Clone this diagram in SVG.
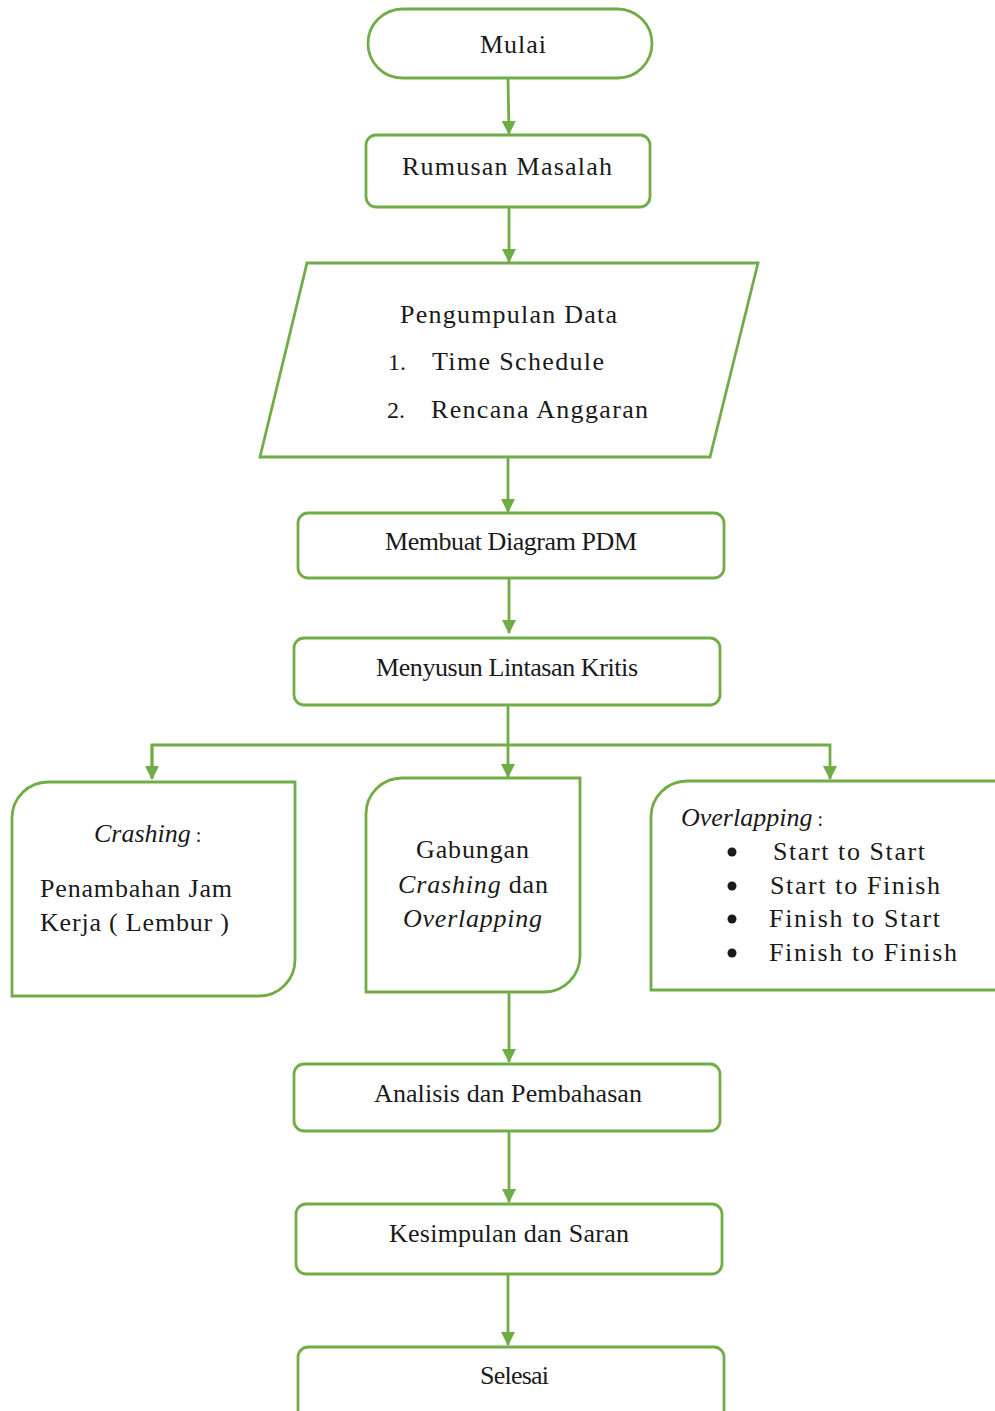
<svg xmlns="http://www.w3.org/2000/svg" width="995" height="1411" viewBox="0 0 995 1411">
<style>
.s{fill:#fff;stroke:#70AD47;stroke-width:2.8}
.c{fill:none;stroke:#70AD47;stroke-width:2.8}
.i{font-style:italic}
</style>
<defs>
<marker id="ah" viewBox="0 0 14 14" refX="13" refY="7" markerWidth="14" markerHeight="14" markerUnits="userSpaceOnUse" orient="auto">
<path d="M0,0 L14,7 L0,14 z" fill="#70AD47"/>
</marker>
</defs>
<rect width="995" height="1411" fill="#fff"/>
<g id="connectors">
<line class="c" x1="508" y1="78" x2="509" y2="134" marker-end="url(#ah)"/>
<line class="c" x1="509" y1="207" x2="509" y2="262" marker-end="url(#ah)"/>
<line class="c" x1="508" y1="457" x2="508" y2="512" marker-end="url(#ah)"/>
<line class="c" x1="509" y1="578" x2="509" y2="633" marker-end="url(#ah)"/>
<line class="c" x1="508" y1="705" x2="508" y2="745"/>
<polyline class="c" points="152,778 152,745 830,745 830,779" marker-end="url(#ah)"/>
<line class="c" x1="152" y1="745" x2="152" y2="779" marker-end="url(#ah)"/>
<line class="c" x1="508" y1="745" x2="508" y2="777" marker-end="url(#ah)"/>
<line class="c" x1="509" y1="992" x2="509" y2="1062" marker-end="url(#ah)"/>
<line class="c" x1="509" y1="1131" x2="509" y2="1202" marker-end="url(#ah)"/>
<line class="c" x1="508" y1="1274" x2="508" y2="1345" marker-end="url(#ah)"/>
</g>
<g font-family="'Liberation Serif', 'Times New Roman', serif" font-size="26" fill="#1a1a1a">
<g id="mulai">
<rect class="s" x="368" y="9" width="284" height="69" rx="34.5"/>
<text x="480" y="53" textLength="66">Mulai</text>
</g>
<g id="rumusan">
<rect class="s" x="366" y="135" width="284" height="72" rx="10"/>
<text x="402" y="175" textLength="210">Rumusan  Masalah</text>
</g>
<g id="pengumpulan">
<polygon class="s" points="307,263 758,263 710,457 260,457"/>
<text x="400" y="323" textLength="217">Pengumpulan  Data</text>
<text x="388" y="370" font-size="24">1.</text>
<text x="432" y="370" textLength="172">Time  Schedule</text>
<text x="387" y="418" font-size="24">2.</text>
<text x="431" y="418" textLength="217">Rencana  Anggaran</text>
</g>
<g id="pdm">
<rect class="s" x="298" y="513" width="426" height="65" rx="10"/>
<text x="385" y="550" textLength="252">Membuat Diagram PDM</text>
</g>
<g id="lintasan">
<rect class="s" x="294" y="638" width="426" height="67" rx="10"/>
<text x="376" y="676" textLength="262">Menyusun Lintasan Kritis</text>
</g>
<g id="crashing">
<path class="s" d="M12,996 L12,818 A36,36 0 0 1 48,782 L295,782 L295,960 A36,36 0 0 1 259,996 Z"/>
<text x="94" y="842"><tspan class="i">Crashing</tspan><tspan font-size="20"> :</tspan></text>
<text x="40" y="897" textLength="192">Penambahan Jam</text>
<text x="40" y="931" textLength="189">Kerja ( Lembur )</text>
</g>
<g id="gabungan">
<path class="s" d="M366,992 L366,814 A36,36 0 0 1 402,778 L580,778 L580,956 A36,36 0 0 1 544,992 Z"/>
<text x="416" y="858" textLength="113">Gabungan</text>
<text x="398" y="893" textLength="150"><tspan class="i">Crashing</tspan> dan</text>
<text x="403" y="927" class="i" textLength="139">Overlapping</text>
</g>
<g id="overlapping">
<path class="s" d="M651,990 L651,817 A36,36 0 0 1 687,781 L1030,781 L1030,954 A36,36 0 0 1 994,990 Z"/>
<text x="681" y="826"><tspan class="i">Overlapping</tspan><tspan font-size="20"> :</tspan></text>
<circle cx="732" cy="852" r="4.5" fill="#1a1a1a"/>
<circle cx="732" cy="886" r="4.5" fill="#1a1a1a"/>
<circle cx="732" cy="919" r="4.5" fill="#1a1a1a"/>
<circle cx="732" cy="953" r="4.5" fill="#1a1a1a"/>
<text x="773" y="860" textLength="152">Start  to  Start</text>
<text x="770" y="894" textLength="170">Start  to  Finish</text>
<text x="769" y="927" textLength="171">Finish  to  Start</text>
<text x="769" y="961" textLength="188">Finish  to  Finish</text>
</g>
<g id="analisis">
<rect class="s" x="294" y="1064" width="426" height="67" rx="10"/>
<text x="374" y="1102" textLength="268">Analisis  dan  Pembahasan</text>
</g>
<g id="kesimpulan">
<rect class="s" x="296" y="1204" width="426" height="70" rx="10"/>
<text x="389" y="1242" textLength="240">Kesimpulan  dan  Saran</text>
</g>
<g id="selesai">
<rect class="s" x="298" y="1347" width="426" height="80" rx="10"/>
<text x="480" y="1384" textLength="69">Selesai</text>
</g>
</g>
</svg>
